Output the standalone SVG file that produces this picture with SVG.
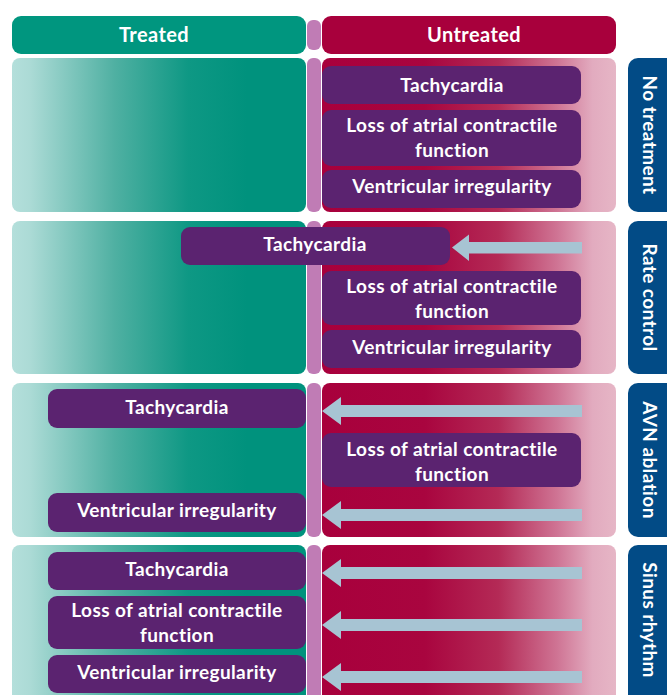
<svg xmlns="http://www.w3.org/2000/svg" width="667" height="695" viewBox="0 0 667 695">
<defs>
<linearGradient id="gT" x1="12" y1="0" x2="306" y2="0" gradientUnits="userSpaceOnUse">
<stop offset="0" stop-color="#b4dfdb"/>
<stop offset="0.06" stop-color="#acdbd6"/>
<stop offset="0.35" stop-color="#4fb0a2"/>
<stop offset="0.6" stop-color="#0e9884"/>
<stop offset="0.8" stop-color="#00927d"/>
<stop offset="1" stop-color="#00927d"/>
</linearGradient>
<linearGradient id="gU" x1="322" y1="0" x2="616" y2="0" gradientUnits="userSpaceOnUse">
<stop offset="0" stop-color="#a8003c"/>
<stop offset="0.35" stop-color="#a9053f"/>
<stop offset="0.6" stop-color="#b42a56"/>
<stop offset="0.8" stop-color="#cf7494"/>
<stop offset="0.92" stop-color="#e2abbf"/>
<stop offset="1" stop-color="#e6b6c6"/>
</linearGradient>
<style>
.tr{fill:url(#gT)}
.un{fill:url(#gU)}
.bar{fill:#c07cb5}
.box{fill:#5b2370}
.lab{fill:#024b86}
.arr{fill:#a7c4d3}
text{font-family:Lato,"Open Sans","Liberation Sans",sans-serif;font-weight:bold;fill:#fff;font-size:19px;letter-spacing:0.4px;text-anchor:middle}
.hd{font-size:20px;letter-spacing:0.4px}
</style>
</defs>
<g id="header">
<rect x="12" y="16" width="294" height="38" rx="9" fill="#00967f"/>
<text class="hd" x="154" y="42">Treated</text>
<rect x="307" y="20" width="14" height="30" rx="6" class="bar"/>
<rect x="322" y="16" width="294" height="38" rx="9" fill="#a8003c"/>
<text class="hd" x="474" y="42">Untreated</text>
</g>
<g id="panels">
<rect x="12" y="58" width="294" height="154" rx="8" class="tr"/>
<rect x="307" y="58" width="14" height="154" rx="6" class="bar"/>
<rect x="322" y="58" width="294" height="154" rx="8" class="un"/>
<rect x="12" y="221" width="294" height="153" rx="8" class="tr"/>
<rect x="307" y="221" width="14" height="153" rx="6" class="bar"/>
<rect x="322" y="221" width="294" height="153" rx="8" class="un"/>
<rect x="12" y="383" width="294" height="154" rx="8" class="tr"/>
<rect x="307" y="383" width="14" height="154" rx="6" class="bar"/>
<rect x="322" y="383" width="294" height="154" rx="8" class="un"/>
<rect x="12" y="545" width="294" height="160" rx="8" class="tr"/>
<rect x="307" y="545" width="14" height="160" rx="6" class="bar"/>
<rect x="322" y="545" width="294" height="160" rx="8" class="un"/>
</g>
<g id="label-no-treatment">
<rect x="628" y="58" width="55" height="154" rx="10" class="lab"/>
<text transform="translate(650 135) rotate(90)" y="7">No treatment</text>
</g>
<g id="label-rate-control">
<rect x="628" y="221" width="55" height="153" rx="10" class="lab"/>
<text transform="translate(650 297.5) rotate(90)" y="7">Rate control</text>
</g>
<g id="label-avn-ablation">
<rect x="628" y="383" width="55" height="154" rx="10" class="lab"/>
<text transform="translate(650 460) rotate(90)" y="7">AVN ablation</text>
</g>
<g id="label-sinus-rhythm">
<rect x="628" y="545" width="55" height="160" rx="10" class="lab"/>
<text transform="translate(650 620) rotate(90)" y="7">Sinus rhythm</text>
</g>
<g id="connectors">
<path class="arr" d="M582,242 H469 V234.5 L452,247.5 L469,261 V253.5 H582 Z"/>
<path class="arr" d="M582,405 H341 V397 L322,411 L341,425 V417 H582 Z"/>
<path class="arr" d="M582,509 H341 V501 L322,515 L341,529 V521 H582 Z"/>
<path class="arr" d="M582,567 H341 V559 L322,573 L341,587 V579 H582 Z"/>
<path class="arr" d="M582,619 H341 V611 L322,625 L341,639 V631 H582 Z"/>
<path class="arr" d="M582,671 H341 V663 L322,677 L341,691 V683 H582 Z"/>
</g>
<g id="r1-tachycardia">
<rect x="322" y="66" width="259" height="38" rx="9" class="box"/>
<text x="452" y="92">Tachycardia</text>
</g>
<g id="r1-loss">
<rect x="322" y="110" width="259" height="56" rx="9" class="box"/>
<text x="452" y="132">Loss of atrial contractile</text>
<text x="452" y="157">function</text>
</g>
<g id="r1-ventricular">
<rect x="322" y="170" width="259" height="38" rx="9" class="box"/>
<text x="452" y="193">Ventricular irregularity</text>
</g>
<g id="r2-tachycardia">
<rect x="181" y="227" width="269" height="38" rx="9" class="box"/>
<text x="315" y="251">Tachycardia</text>
</g>
<g id="r2-loss">
<rect x="322" y="271" width="259" height="54" rx="9" class="box"/>
<text x="452" y="293">Loss of atrial contractile</text>
<text x="452" y="318">function</text>
</g>
<g id="r2-ventricular">
<rect x="322" y="330" width="259" height="38" rx="9" class="box"/>
<text x="452" y="354">Ventricular irregularity</text>
</g>
<g id="r3-tachycardia">
<rect x="48" y="389" width="258" height="39" rx="9" class="box"/>
<text x="177" y="414">Tachycardia</text>
</g>
<g id="r3-loss">
<rect x="322" y="433" width="259" height="54" rx="9" class="box"/>
<text x="452" y="456">Loss of atrial contractile</text>
<text x="452" y="481">function</text>
</g>
<g id="r3-ventricular">
<rect x="48" y="493" width="258" height="39" rx="9" class="box"/>
<text x="177" y="517">Ventricular irregularity</text>
</g>
<g id="r4-tachycardia">
<rect x="48" y="552" width="258" height="38" rx="9" class="box"/>
<text x="177" y="576">Tachycardia</text>
</g>
<g id="r4-loss">
<rect x="48" y="596" width="258" height="53" rx="9" class="box"/>
<text x="177" y="617">Loss of atrial contractile</text>
<text x="177" y="642">function</text>
</g>
<g id="r4-ventricular">
<rect x="48" y="655" width="258" height="38" rx="9" class="box"/>
<text x="177" y="679">Ventricular irregularity</text>
</g>
</svg>
